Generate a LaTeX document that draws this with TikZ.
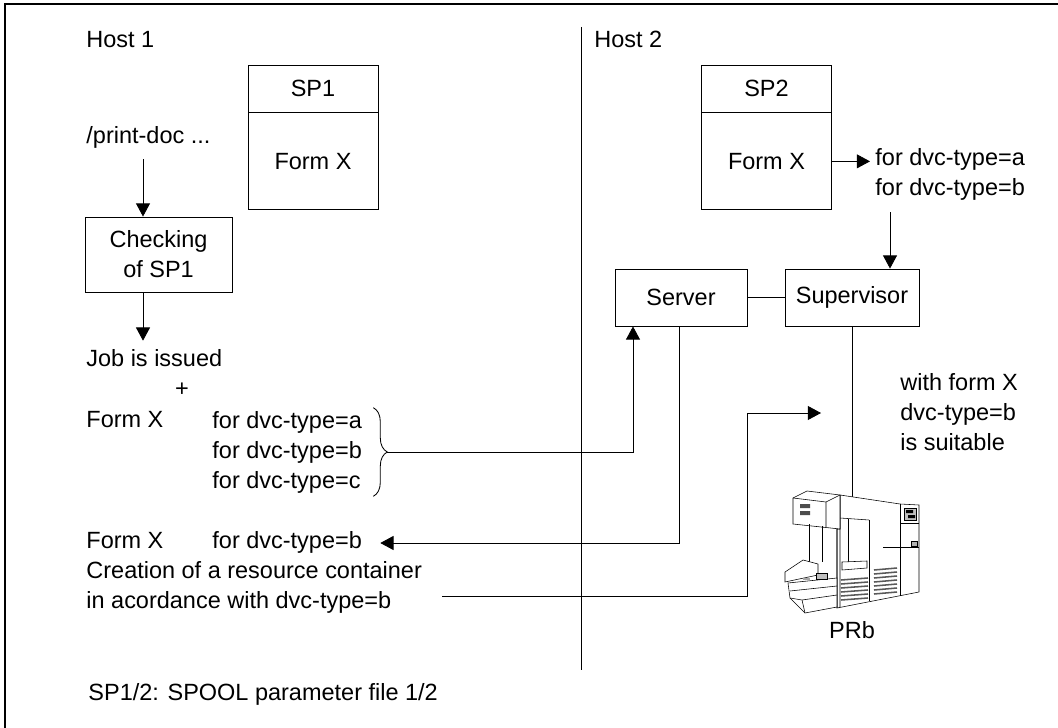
\documentclass[tikz,border=0pt]{standalone}
\usepackage{fontspec}
\setmainfont{Liberation Sans}
\usetikzlibrary{positioning}
\usetikzlibrary{arrows.meta,decorations.pathreplacing}

\begin{document}
\begin{tikzpicture}[x=0.025cm, y=-0.025cm, line width=0.6pt,
    every node/.style={font=\fontsize{16.7}{21.3}\selectfont},
    txt/.style={inner sep=0pt, anchor=west, align=left},
    lbl/.style={txt, text height=12pt, text depth=3.5pt},
    box/.style={draw, inner sep=0pt, align=center},
    ar/.style={-{Triangle[length=3.3mm, width=3.5mm]}}]
  \useasboundingbox (0,0) rectangle (1058,728);
  \draw[line width=1.1pt] (1058,4) -- (5,4) -- (5,728);
  \draw (581,27) -- (581,670);

  % host 1
  \node[lbl] (h1) at (86,42) {Host 1};
  \node[box, minimum width=3.25cm, minimum height=1.175cm] (sp1) at (313,88.5) {SP1};
  \node[box, minimum width=3.25cm, minimum height=2.425cm, below=0pt of sp1] (fx1) {Form X};
  \node[lbl] (pd) at (86,138) {/print-doc ...};
  \node[box, minimum width=3.675cm, minimum height=1.875cm] (chk) at (158.5,254.5) {Checking\\of SP1};
  \node[lbl] (job) at (86,361) {Job is issued};
  \node[inner sep=0pt] (plus) at (182,390) {+};
  \node[lbl] (fx2) at (86,422) {Form X};
  \node[txt] (fl) at (212,452) {for dvc-type=a\\for dvc-type=b\\for dvc-type=c};
  \node[lbl] (fx3) at (86,543) {Form X};
  \node[lbl] (fb) at (212,543) {for dvc-type=b};
  \node[txt] (cr) at (86,587.5) {Creation of a resource container\\in acordance with dvc-type=b};
  \node[lbl] (note) at (88,695) {SP1/2: SPOOL parameter file 1/2};

  % host 2
  \node[lbl] (h2) at (594,42) {Host 2};
  \node[box, minimum width=3.25cm, minimum height=1.175cm] (sp2) at (766.5,88.5) {SP2};
  \node[box, minimum width=3.25cm, minimum height=2.425cm, below=0pt of sp2] (fx4) {Form X};
  \node[txt] (ff) at (875,174) {for dvc-type=a\\for dvc-type=b};
  \node[box, minimum width=3.3cm, minimum height=1.425cm] (srv) at (681,297.5) {Server};
  \node[box, minimum width=3.35cm, minimum height=1.425cm] (sup) at (852,297.5) {Supervisor};
  \node[txt] (suit) at (900,412) {with form X\\dvc-type=b\\is suitable};
  \node (prb) at (852,630) {PRb};

  \coordinate (ca) at (143,0);
  \coordinate (cb) at (890,0);
  \coordinate (bt) at ([xshift=0.625cm]fl.east);
  \coordinate (ck) at (747,413);
  \coordinate (ct) at (821,413);
  \coordinate (ptop) at (852,497);

  \draw[ar, shorten <=0.25cm] (pd.south -| ca) -- (chk.north -| ca);
  \draw[ar, shorten >=0.225cm] (chk.south -| ca) -- (job.north -| ca);
  \draw[decorate, decoration={brace, amplitude=0.35cm}] ([xshift=0.275cm, yshift=0.075cm]fl.north east) -- ([xshift=0.275cm, yshift=-0.075cm]fl.south east);
  \draw[ar] (bt) -| ([xshift=-1.2cm]srv.south);
  \draw[ar, shorten >=0.45cm] ([xshift=-0.05cm]srv.south) |- (fb.east);
  \draw[ar] ([xshift=0.5cm, yshift=-0.22cm]cr.east) -| (ck) -- (ct);
  \draw[ar, shorten >=0.125cm] (fx4.east) -- (fx4.east -| ff.west);
  \draw[ar, shorten <=0.3cm] (ff.south -| cb) -- (sup.north -| cb);
  \draw (srv) -- (sup);
  \draw (sup.south) -- (ptop);

  % printer PRb
  \begin{scope}[line width=0.4pt]
    \draw[fill=white] (840,495) -- (900,504) -- (919,505) -- (919,592) -- (837,608) -- (837,529) -- (840,529) -- cycle;
    \draw (900,504) -- (900,596) (901,523) -- (919,523) (883,547) -- (919,547);
    \draw[fill=gray!50] (904,508) rectangle (916,520);
    \fill (906,510) rectangle (913,513) (908,515) rectangle (915,518);
    \draw[fill=gray!60] (911,541) rectangle (917,546);
    \draw (840,518) -- (869,520) (840,495) -- (840,607) (837,529) -- (837,608);
    \draw (848,519) -- (848,562) (869,520) -- (869,601);
    \draw[fill=white] (842,562) -- (867,561) -- (867,568) -- (842,570) -- cycle;
    \foreach \y in {580,584,...,600}
      \draw[gray!70!black, line width=1.1pt] (841,\y) -- (868,\y-2);
    \foreach \y in {570,574,...,594}
      \draw[gray!70!black, line width=1.1pt] (874,\y) -- (897,\y-2);
    \draw[fill=white] (793,498) -- (807,491) -- (840,495) -- (840,529) -- (793,524) -- cycle;
    \draw (793,498) -- (826,502) -- (840,495) (826,502) -- (826,527);
    \fill[gray!60!black] (800,504) rectangle (810,508) (800,511) rectangle (810,515);
    \draw (809,524) -- (809,562) (822,526) -- (822,562);
    \draw[fill=white] (788,583) -- (837,578) -- (837,607) -- (805,613) -- (790,598) -- cycle;
    \draw[fill=white] (785,572) -- (803,560) -- (818,564) -- (818,575) -- (785,582) -- cycle;
    \draw (790,591) -- (837,586) (790,598) -- (802,600) -- (837,595) (802,600) -- (805,613);
    \draw[fill=gray!50] (816,573) rectangle (827,579);
    \fill[gray!70] (803,578) rectangle (810,580);
  \end{scope}
\end{tikzpicture}
\end{document}
